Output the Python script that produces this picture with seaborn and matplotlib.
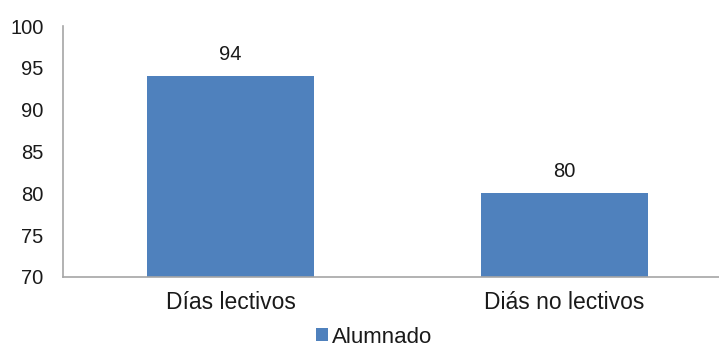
import matplotlib
matplotlib.use("Agg")
import matplotlib.pyplot as plt
from matplotlib.patches import Patch
import seaborn as sns
import pandas as pd

categories = ["Días lectivos", "Diás no lectivos"]
values = [94, 80]
series_name = "Alumnado"
y_ticks = [70, 75, 80, 85, 90, 95, 100]

sns.set_theme(style="white")
plt.rcParams["font.family"] = ["Liberation Sans", "DejaVu Sans"]

bar_color = "#4F81BD"
spine_color = "#A6A6A6"
text_color = "#1a1a1a"

df = pd.DataFrame({"cat": categories, "val": values})

fig = plt.figure(figsize=(7.19, 3.49), dpi=100)
ax = fig.add_axes([63/719, 1-277/349, 1-63/719, (277-26)/349])

sns.barplot(data=df, x="cat", y="val", color=bar_color, width=0.5,
            saturation=1, ax=ax, edgecolor="none")

ax.set_ylim(70, 100)
ax.set_yticks(y_ticks)
ax.set_xlim(-0.5015, 1.4626)
ax.set_xlabel("")
ax.set_ylabel("")

for s in ["top", "right"]:
    ax.spines[s].set_visible(False)
for s in ["left", "bottom"]:
    ax.spines[s].set_color(spine_color)
    ax.spines[s].set_linewidth(1.2)

ax.tick_params(axis="y", length=0, pad=14, labelsize=14.5, labelcolor=text_color)
ax.tick_params(axis="x", length=0, pad=10, labelsize=16.5, labelcolor=text_color)

ax.bar_label(ax.containers[0], labels=[str(v) for v in values],
             padding=9, fontsize=14.5, color=text_color)

handle = Patch(facecolor=bar_color, edgecolor="none")
fig.legend([handle], [series_name], loc="center", bbox_to_anchor=(0.520, 0.034),
           frameon=False, fontsize=16, handlelength=0.54, handleheight=0.54,
           handletextpad=0.18, borderpad=0, labelcolor=text_color)

fig.savefig("out.png", dpi=100)
